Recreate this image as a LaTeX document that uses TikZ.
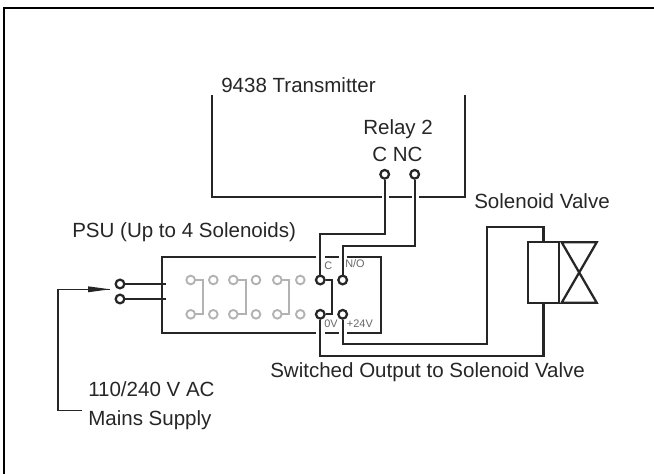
\documentclass[tikz,border=0pt]{standalone}
\usepackage{fontspec}
\setmainfont{Liberation Sans}
\tikzset{
  wire/.style={line width=1.7pt,draw=black!85},
  relaywire/.style={line width=1.4pt,draw=black!30},
  term/.style={shape=circle,inner sep=0pt,minimum size=6.5pt,line width=1.7pt,draw=black!85,fill=white},
  relayterm/.style={shape=circle,inner sep=0pt,minimum size=6.5pt,line width=1.4pt,draw=black!30,fill=white},
  lbl/.style={inner sep=0pt,anchor=base west,font=\fontsize{15.4}{18}\selectfont,text=black!85},
  tinylbl/.style={inner sep=0pt,anchor=base west,font=\fontsize{8.2}{9}\selectfont,text=black!60},
}
\begin{document}
\begin{tikzpicture}[x=0.75pt,y=-0.75pt]
\useasboundingbox (0,0) rectangle (654,474);
\draw[line width=1.5pt,draw=black] (4,474) -- (4,7.8) -- (654,7.8);
% transmitter
\draw[wire] (212,95) -- (212,196.7) -- (381.7,196.7);
\draw[wire] (389.3,196.7) -- (411.7,196.7);
\draw[wire] (419.3,196.7) -- (465,196.7) -- (465,95);
\node[lbl] at (221,93) {9438 Transmitter};
\node[lbl] at (363,134.5) {Relay 2};
\node[lbl] at (372,161.7) {C NC};
% psu box
\draw[wire] (316,257.3) -- (161.7,257.3) -- (161.7,332.7) -- (316,332.7);
\draw[wire] (325,257.3) -- (339.3,257.3);
\draw[wire] (325,332.7) -- (339.3,332.7);
\draw[wire] (346.7,257.3) -- (380.7,257.3) -- (380.7,332.7) -- (346.7,332.7);
\node[lbl] at (72,237.3) {PSU (Up to 4 Solenoids)};
\node[tinylbl] at (324,270) {C};
\node[tinylbl] at (345,268) {N/O};
\node[tinylbl] at (324,327.3) {0V};
\node[tinylbl] at (346.7,327.3) {+24V};
% relays
\foreach \n/\xa/\xb/\xc in {1/190.7/202.7/213.3,2/233.3/245.7/256,3/277.3/289.3/300.3}{
  \draw[relaywire] (\xa,280) -- (\xb,280) -- (\xb,314.3) -- (\xa,314.3);
  \node[relayterm] (ra\n) at (\xa,280) {};
  \node[relayterm] (rb\n) at (\xc,280) {};
  \node[relayterm] (rc\n) at (\xa,314.3) {};
  \node[relayterm] (rd\n) at (\xc,314.3) {};
}
% terminals
\coordinate (inaend) at (165.7,284);
\coordinate (inbend) at (165.7,299);
\node[term] (ina) at (120,284) {};
\node[term] (inb) at (120,299) {};
\draw[wire] (ina) -- (inaend);
\draw[wire] (inb) -- (inbend);
\node[term] (c) at (320.3,280) {};
\node[term] (no) at (342.7,280) {};
\node[term] (zero) at (320.3,314.3) {};
\node[term] (plus) at (342.7,314.3) {};
\node[term] (relc) at (384.7,174.3) {};
\node[term] (relnc) at (414.7,174.3) {};
\draw[wire] (c) -- (332.3,280) -- (332.3,314.3) -- (zero);
\draw[wire] (c) -- (320.3,234) -- (384.7,234) -- (relc);
\draw[wire] (no) -- (342.7,246) -- (414.7,246) -- (relnc);
% valve
\node[draw=black!85,line width=1.7pt,inner sep=0pt,minimum width=23pt,minimum height=45.3pt] (coil) at (543.6,272.5) {};
\draw[wire] (plus) -- (342.7,344) -- (486.7,344) -- (486.7,227.3) -- (543.6,227.3) -- (coil.north);
\draw[wire] (zero) -- (320.3,355.7) -- (543.6,355.7) -- (coil.south);
\draw[wire] (561.7,242.3) -- (596.7,242.3) -- (561.7,302.7) -- (596.7,302.7) -- cycle;
\node[lbl] at (474,208.3) {Solenoid Valve};
\node[lbl] at (270,378) {Switched Output to Solenoid Valve};
% mains
\coordinate (mainsend) at (110,289.3);
\coordinate (mainsstart) at (81.7,410.7);
\draw[line width=0.8pt,draw=black!85] (mainsstart) -- (58,410.7) -- (58,289.3) -- (mainsend);
\fill[black!85] (88,286.3) -- (110,289.3) -- (88,292.3) -- cycle;
\node[lbl] at (88,396.7) {110/240 V AC};
\node[lbl] at (88,425) {Mains Supply};
\end{tikzpicture}
\end{document}
